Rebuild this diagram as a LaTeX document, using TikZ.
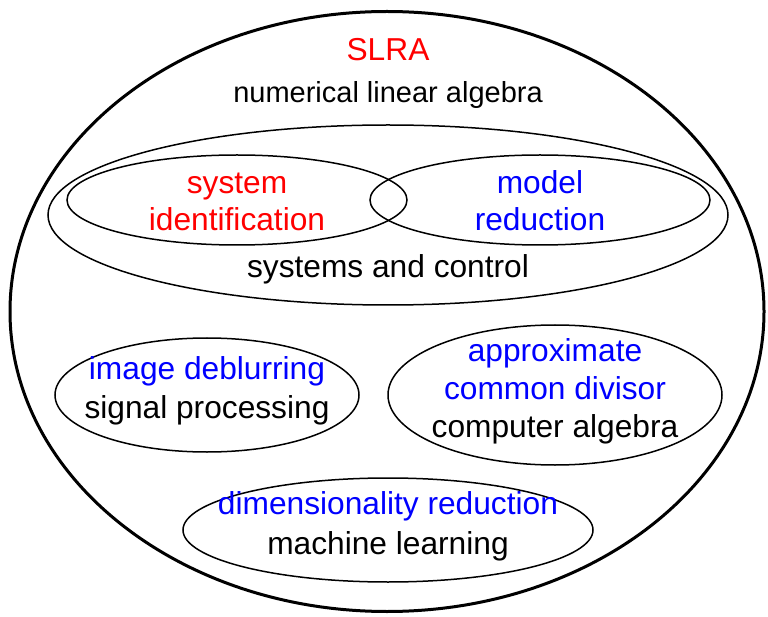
\documentclass[tikz,border=0pt]{standalone}
\usepackage{fontspec}
\setmainfont{Liberation Sans}
\begin{document}
\begin{tikzpicture}[x=1pt,y=-1pt,
  lbl/.style={font=\fontsize{31.7}{36}\selectfont, inner sep=0pt, anchor=base},
  small/.style={font=\fontsize{29}{34}\selectfont},
  red/.style={text=red}, blu/.style={text=blue},
  thinell/.style={draw=black, line width=1.5pt},
  thickell/.style={draw=black, line width=3pt}]
\useasboundingbox (0,0) rectangle (768,617);
\draw[thickell] (387,311.5) ellipse [x radius=377, y radius=300];
\draw[thinell] (388,215) ellipse [x radius=340, y radius=90];
\draw[thinell] (237,200) ellipse [x radius=170, y radius=45];
\draw[thinell] (540,200) ellipse [x radius=170, y radius=45];
\draw[thinell] (207,395) ellipse [x radius=152, y radius=57];
\draw[thinell] (555,395) ellipse [x radius=167, y radius=70];
\draw[thinell] (388,530) ellipse [x radius=205, y radius=52];
\node[lbl,red] (slra) at (388,61) {SLRA};
\node[lbl,small] (nla) at (388,103) {numerical linear algebra};
\node[lbl,red] (sys1) at (237,194) {system};
\node[lbl,red] (sys2) at (237,231) {identification};
\node[lbl,blu] (mr1) at (540,194) {model};
\node[lbl,blu] (mr2) at (540,231) {reduction};
\node[lbl] (sc) at (388,278) {systems and control};
\node[lbl,blu] (id) at (207,379) {image deblurring};
\node[lbl] (sp) at (207,418) {signal processing};
\node[lbl,blu] (acd1) at (555,361) {approximate};
\node[lbl,blu] (acd2) at (555,399) {common divisor};
\node[lbl] (ca) at (555,437) {computer algebra};
\node[lbl,blu] (dr) at (388,514) {dimensionality reduction};
\node[lbl] (ml) at (388,554) {machine learning};
\end{tikzpicture}
\end{document}
